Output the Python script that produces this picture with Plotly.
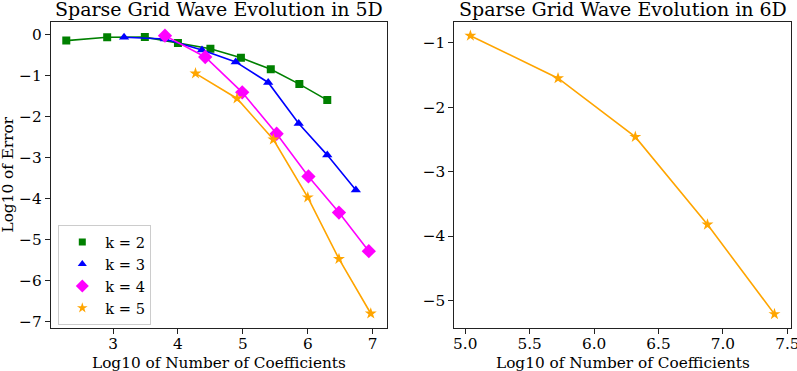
import plotly.graph_objects as go
from plotly.subplots import make_subplots

# --- 5D panel: log10(#coefficients) vs log10(error) per level k ---
x_k2 = [2.28, 2.91, 3.49, 4.00, 4.50, 4.97, 5.43, 5.87, 6.30]
y_k2 = [-0.15, -0.07, -0.065, -0.21, -0.35, -0.57, -0.85, -1.21, -1.60]

x_k3 = [3.17, 3.80, 4.37, 4.89, 5.39, 5.86, 6.30, 6.74]
y_k3 = [-0.07, -0.11, -0.38, -0.67, -1.17, -2.17, -2.94, -3.79]

x_k4 = [3.80, 4.42, 4.99, 5.52, 6.01, 6.48, 6.94]
y_k4 = [-0.03, -0.55, -1.41, -2.42, -3.46, -4.34, -5.28]

x_k5 = [4.27, 4.91, 5.47, 6.00, 6.48, 6.97]
y_k5 = [-0.95, -1.56, -2.56, -3.97, -5.47, -6.80]

# --- 6D panel ---
x_6d = [5.04, 5.72, 6.32, 6.88, 7.40]
y_6d = [-0.89, -1.55, -2.46, -3.82, -5.21]

x_ticks_5d = [3, 4, 5, 6, 7]
y_ticks_5d = [0, -1, -2, -3, -4, -5, -6, -7]
x_ticks_6d = [5.0, 5.5, 6.0, 6.5, 7.0, 7.5]
y_ticks_6d = [-1, -2, -3, -4, -5]

# name, x, y, colour, symbol, plot marker size, legend marker size
series = [
    ("k = 2", x_k2, y_k2, "green", "square", 8, 7),
    ("k = 3", x_k3, y_k3, "blue", "triangle-up", 9, 8),
    ("k = 4", x_k4, y_k4, "magenta", "diamond", 11, 10),
    ("k = 5", x_k5, y_k5, "orange", "star", 9, 8),
]

FONT = "DejaVu Serif"
W, H = 797, 371
TICK_SIZE = 15.3
TITLE_SIZE = 19

fig = make_subplots(rows=1, cols=2)

for name, xs, ys, color, symbol, size, leg_size in series:
    fig.add_trace(
        go.Scatter(x=xs, y=ys, mode="lines+markers", showlegend=False,
                   line=dict(color=color, width=1.6),
                   marker=dict(color=color, symbol=symbol, size=size, line=dict(width=0))),
        row=1, col=1,
    )
    # legend entry only (matplotlib-style marker-only legend, smaller symbol)
    fig.add_trace(
        go.Scatter(x=[None], y=[None], mode="markers", name=name,
                   marker=dict(color=color, symbol=symbol, size=leg_size, line=dict(width=0))),
        row=1, col=1,
    )

fig.add_trace(
    go.Scatter(x=x_6d, y=y_6d, mode="lines+markers", showlegend=False,
               line=dict(color="orange", width=1.6),
               marker=dict(color="orange", symbol="star", size=9, line=dict(width=0))),
    row=1, col=2,
)

axis_common = dict(
    showline=True, linecolor="#222", linewidth=1, mirror=True,
    ticks="outside", ticklen=5, tickcolor="#222", tickwidth=1,
    showgrid=False, zeroline=False, automargin=False,
    tickfont=dict(family=FONT, size=TICK_SIZE, color="black"),
)

fig.update_xaxes(ticklabelstandoff=-4, ticklabeloverflow="allow", **axis_common)
fig.update_yaxes(**axis_common)

top, bottom = 21.7, 328.3
ydom = [(H - bottom) / H, (H - top) / H]
left_dom = (50.7, 387.0)
right_dom = (454.3, 790.7)

fig.update_layout(
    xaxis=dict(domain=[left_dom[0] / W, left_dom[1] / W], range=[2.04, 7.22], tickvals=x_ticks_5d),
    yaxis=dict(domain=ydom, range=[-7.16, 0.31], tickvals=y_ticks_5d),
    xaxis2=dict(domain=[right_dom[0] / W, right_dom[1] / W], range=[4.915, 7.526],
                tickvals=x_ticks_6d, tickformat=".1f"),
    yaxis2=dict(domain=ydom, range=[-5.43, -0.673], tickvals=y_ticks_6d),
)

for title, (x0, x1) in [("Sparse Grid Wave Evolution in 5D", left_dom),
                        ("Sparse Grid Wave Evolution in 6D", right_dom)]:
    fig.add_annotation(
        text=title, xref="paper", yref="paper",
        x=(x0 + x1) / 2 / W, y=(H - 22) / H, xanchor="center", yanchor="bottom",
        showarrow=False, font=dict(family=FONT, size=TITLE_SIZE, color="black"),
    )
    fig.add_annotation(
        text="Log10 of Number of Coefficients", xref="paper", yref="paper",
        x=(x0 + x1) / 2 / W, y=(H - 362.5) / H, xanchor="center", yanchor="middle",
        showarrow=False, font=dict(family=FONT, size=TICK_SIZE, color="black"),
    )

fig.add_annotation(
    text="Log10 of Error", xref="paper", yref="paper", textangle=-90,
    x=7.5 / W, y=(H - (top + bottom) / 2) / H, xanchor="center", yanchor="middle",
    showarrow=False, font=dict(family=FONT, size=TICK_SIZE, color="black"),
)

fig.update_layout(
    width=W, height=H,
    margin=dict(l=0, r=0, t=0, b=0),
    paper_bgcolor="white", plot_bgcolor="white",
    font=dict(family=FONT, color="black"),
    legend=dict(
        x=58.3 / W, y=(H - 225) / H, xanchor="left", yanchor="top",
        bgcolor="white", bordercolor="#ccc", borderwidth=1,
        font=dict(family=FONT, size=14.6, color="black"),
        itemsizing="trace", itemwidth=36, tracegroupgap=0,
    ),
)

# drop the browser's default body margin so the figure sits at the page corner
fig.write_html("out.html", config={"displayModeBar": False},
               post_script="document.body.style.margin = '0';")
